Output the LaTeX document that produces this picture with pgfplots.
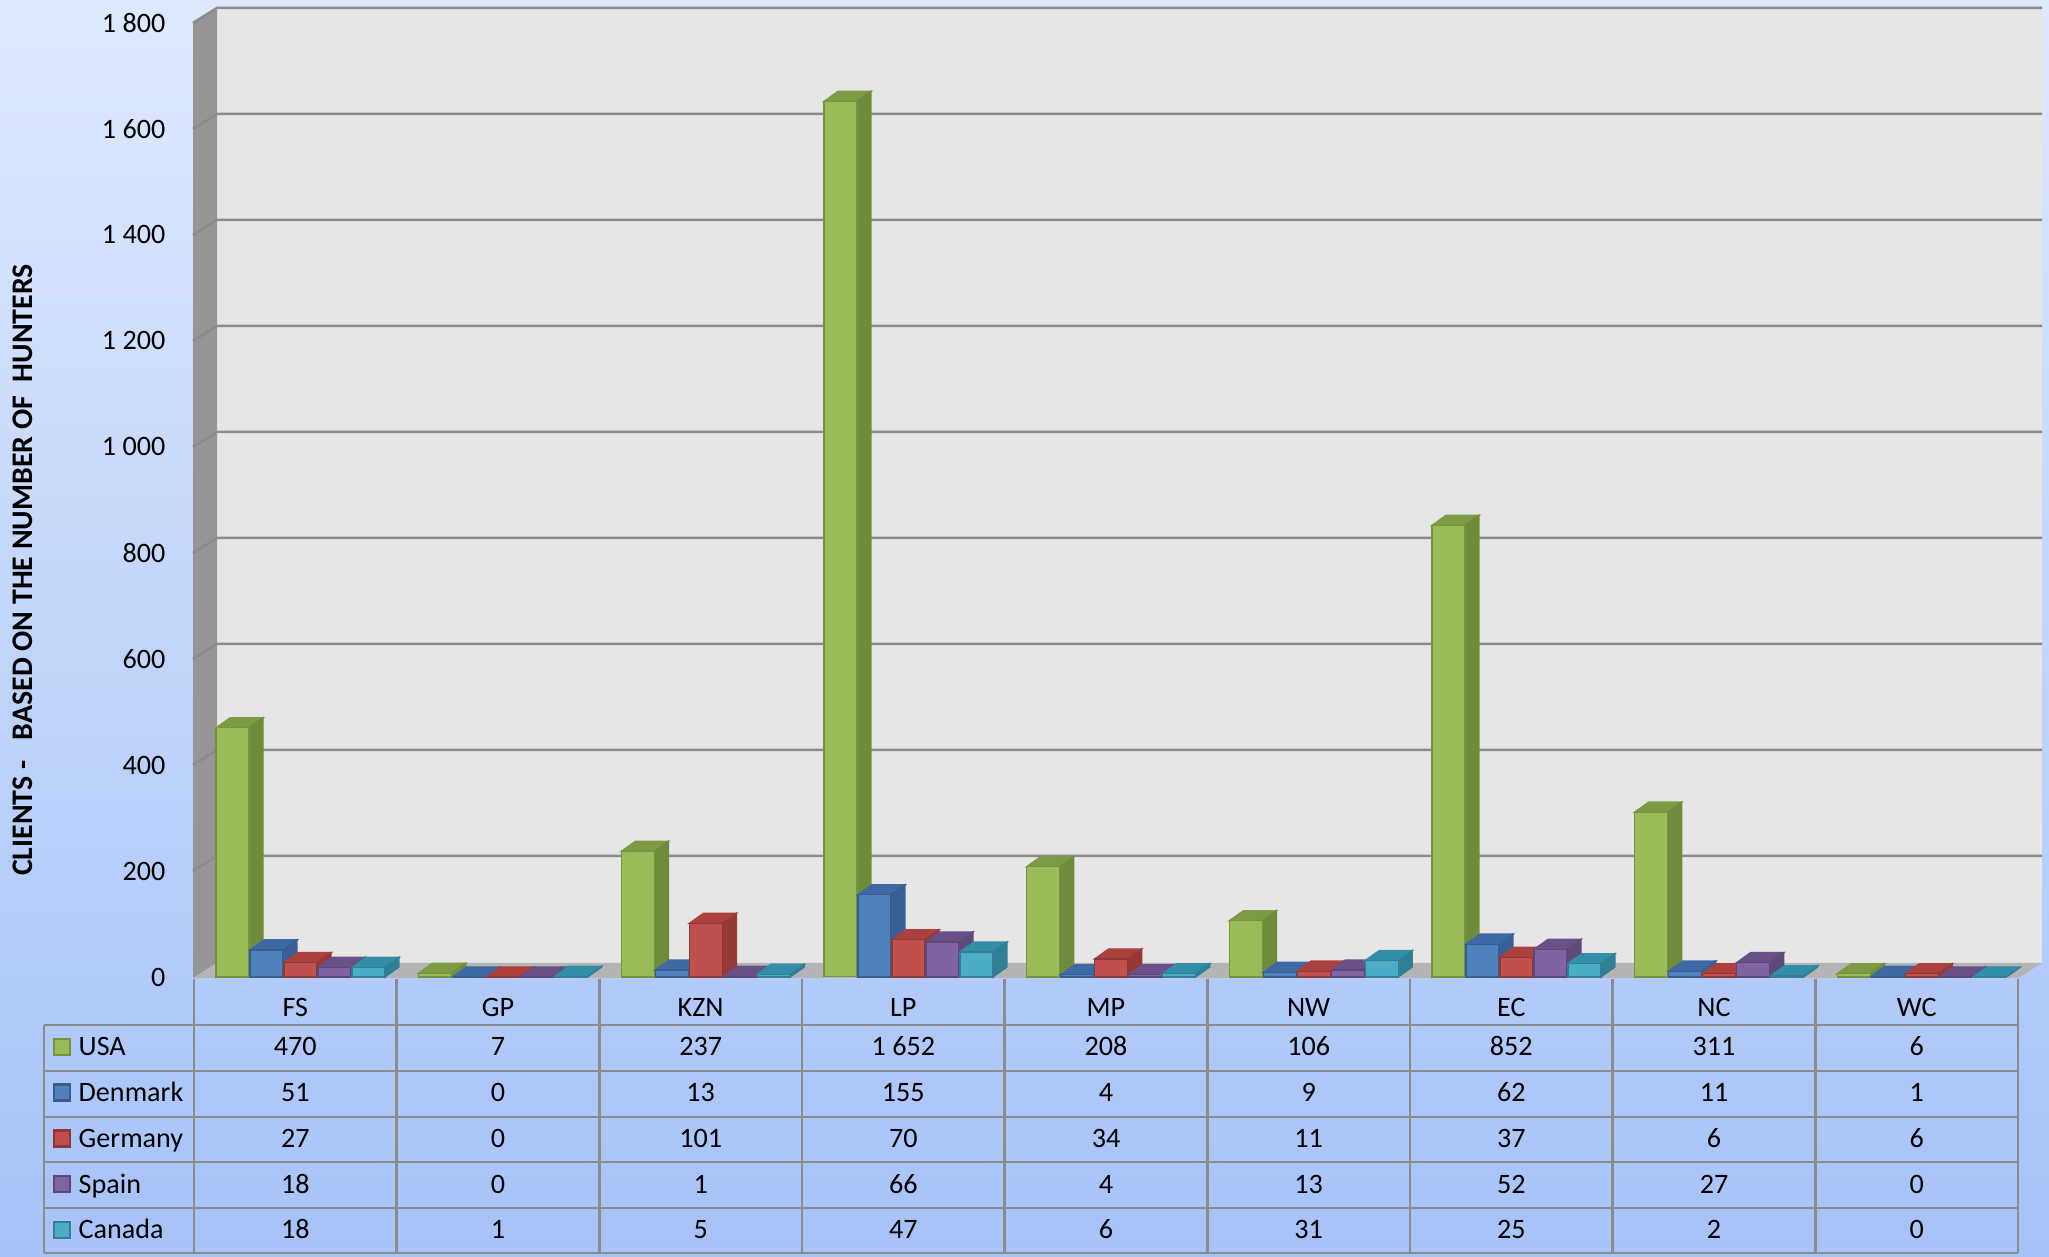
\documentclass[border=0pt]{standalone}
\usepackage{pgfplots}
\usepackage{pgfplotstable}
\pgfplotsset{compat=1.18}
\usepackage{fontspec}
\setmainfont{Carlito}

\definecolor{bgtop}{HTML}{DFE9FD}
\definecolor{bgbot}{HTML}{A6C2F8}
\definecolor{wallback}{HTML}{E6E6E6}
\definecolor{wallleft}{HTML}{969696}
\definecolor{floorc}{HTML}{B4B4B4}
\definecolor{gridc}{HTML}{8C8C8C}
\definecolor{tablec}{HTML}{8C8C8C}

\definecolor{usaF}{HTML}{9BBB59}\definecolor{usaS}{HTML}{6F8B3B}\definecolor{usaT}{HTML}{7C9A44}\definecolor{usaB}{HTML}{77933C}
\definecolor{denF}{HTML}{4F81BD}\definecolor{denS}{HTML}{3A5F96}\definecolor{denT}{HTML}{3D6AA5}\definecolor{denB}{HTML}{385D8A}
\definecolor{gerF}{HTML}{C0504D}\definecolor{gerS}{HTML}{963A37}\definecolor{gerT}{HTML}{AC403C}\definecolor{gerB}{HTML}{8C3836}
\definecolor{spaF}{HTML}{8064A2}\definecolor{spaS}{HTML}{5F4A7B}\definecolor{spaT}{HTML}{6A5088}\definecolor{spaB}{HTML}{5C4776}
\definecolor{canF}{HTML}{4BACC6}\definecolor{canS}{HTML}{2F7F96}\definecolor{canT}{HTML}{338FA8}\definecolor{canB}{HTML}{357D91}

\pgfplotstableread{
c USA Denmark Germany Spain Canada
0 470 51 27 18 18
1 7 0 0 0 1
2 237 13 101 1 5
3 1652 155 70 66 47
4 208 4 34 4 6
5 106 9 11 13 31
6 852 62 37 52 25
7 311 11 6 27 2
8 6 1 6 0 0
}\datatable

\pgfdeclareplotmark{nomark}{}

\pgfplotsset{
  cuboid/.style n args={4}{% front, side, top, border
    scatter, only marks, mark=nomark,
    visualization depends on={rawy \as \val},
    scatter/@pre marker code/.code={%
      \pgfmathsetmacro\h{\val*0.053}%
      \fill[#3] (-1.65mm,0pt) -- (1.65mm,0pt) -- (3.05mm,1mm) -- (-0.25mm,1mm) -- cycle;
      \fill[#2] (1.65mm,0pt) -- (1.65mm,-\h mm) -- (3.05mm,{1mm-\h mm}) -- (3.05mm,1mm) -- cycle;
      \filldraw[fill=#1, draw=#4, line width=0.12mm] (-1.65mm,-\h mm) rectangle (1.65mm,0pt);
    },
    scatter/@post marker code/.code={},
  },
}

\begin{document}
\fontsize{8}{9.6}\selectfont
\begin{tikzpicture}
% background
\shade[top color=bgtop, bottom color=bgbot] (0,0) rectangle (204.9mm,125.7mm);

\begin{scope}[x=0.1mm, y=-0.1mm, yshift=125.7mm]
  % back wall
  \fill[wallback] (217,7) rectangle (2042,963);
  % left wall
  \fill[wallleft] (193,24) -- (217,7) -- (217,963) -- (193,978) -- cycle;
  % floor
  \fill[floorc] (193,978) -- (217,963) -- (2042,963) -- (2018,978) -- cycle;
  % gridlines
  \foreach \v in {200,400,...,1800} {
    \draw[gridc, line width=0.25mm] (193,{977-0.53*\v}) -- (217,{962-0.53*\v}) -- (2042,{962-0.53*\v});
  }
\end{scope}

\begin{axis}[
  at={(19.4mm,28.0mm)}, anchor=south west,
  scale only axis, width=182.4mm, height=95.4mm,
  xmin=-0.5, xmax=8.5, ymin=0, ymax=1800,
  clip=false,
  axis line style={draw=none},
  tick style={draw=none},
  major tick length=0pt,
  xtick={0,...,8},
  xticklabels={FS,GP,KZN,LP,MP,NW,EC,NC,WC},
  ytick={0,200,...,1800},
  yticklabel style={anchor=east, inner sep=0pt, xshift=-2.8mm},
  xticklabel style={anchor=base, inner sep=0pt, yshift=-4.0mm},
  /pgf/number format/1000 sep={\ },
  /pgf/number format/assume math mode=true,
]
\addplot[cuboid={usaF}{usaS}{usaT}{usaB}] table[x expr=\thisrow{c}-0.310, y=USA] {\datatable};
\addplot[cuboid={denF}{denS}{denT}{denB}] table[x expr=\thisrow{c}-0.1423, y=Denmark] {\datatable};
\addplot[cuboid={gerF}{gerS}{gerT}{gerB}] table[x expr=\thisrow{c}+0.0254, y=Germany] {\datatable};
\addplot[cuboid={spaF}{spaS}{spaT}{spaB}] table[x expr=\thisrow{c}+0.1931, y=Spain] {\datatable};
\addplot[cuboid={canF}{canS}{canT}{canB}] table[x expr=\thisrow{c}+0.3608, y=Canada] {\datatable};
\end{axis}

% data table below
\begin{scope}[x=0.1mm, y=-0.1mm, yshift=125.7mm]
  \foreach \yy in {1025,1071,1117,1162,1208,1253} {
    \draw[tablec, line width=0.25mm] (44,\yy) -- (2018,\yy);
  }
  \draw[tablec, line width=0.25mm] (44,1025) -- (44,1253);
  \foreach \k in {0,...,9} {
    \draw[tablec, line width=0.25mm] ({194+202.67*\k},979) -- ({194+202.67*\k},1253);
  }
  \foreach \name/\f/\b [count=\r from 0] in {USA/usaF/usaB, Denmark/denF/denB, Germany/gerF/gerB, Spain/spaF/spaB, Canada/canF/canB} {
    \filldraw[fill=\f, draw=\b, line width=0.25mm] (54,{1039+45.7*\r}) rectangle (70,{1055+45.7*\r});
    \node[anchor=base west, inner sep=0pt] at (78,{1056+45.7*\r}) {\name};
    \foreach \c in {0,...,8} {
      \pgfplotstablegetelem{\c}{\name}\of\datatable
      \node[anchor=base, inner sep=0pt] at ({295.3+202.67*\c},{1056+45.7*\r}) {\pgfmathprintnumber[1000 sep={\ }, assume math mode=true]{\pgfplotsretval}};
    }
  }
  % y axis title
  \node[rotate=90, inner sep=0pt, font=\fontsize{8.5}{10}\selectfont\bfseries] at (23,570) {CLIENTS -\ \ \ BASED ON THE NUMBER OF\ \ HUNTERS};
\end{scope}

\pgfresetboundingbox
\useasboundingbox (0,0) rectangle (204.9mm,125.7mm);
\end{tikzpicture}
\end{document}
